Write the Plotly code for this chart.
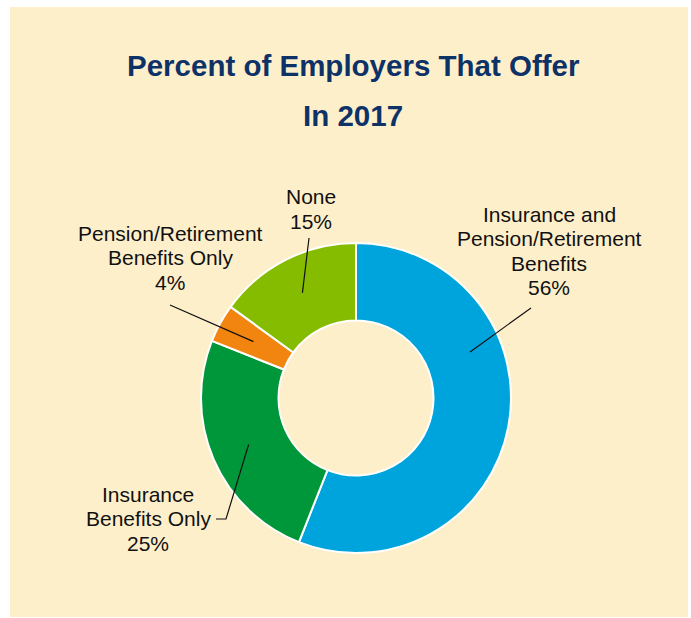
import math
import plotly.graph_objects as go

# Data
categories = [
    "Insurance and<br>Pension/Retirement<br>Benefits",
    "Insurance<br>Benefits Only",
    "Pension/Retirement<br>Benefits Only",
    "None",
]
percents = [56, 25, 4, 15]
colors = ["#00A4DC", "#00963A", "#F2850F", "#86BC00"]

W, H = 691, 618
CX, CY, R = 356, 398, 155  # donut centre / outer radius in px

def px(x):
    return x / W

def py(y):
    return 1 - y / H

fig = go.Figure(
    go.Pie(
        values=percents,
        labels=[c.replace("<br>", " ") for c in categories],
        marker=dict(colors=colors, line=dict(color="white", width=2)),
        hole=0.5,
        sort=False,
        direction="clockwise",
        rotation=0,
        textinfo="none",
        hoverinfo="label+percent",
        showlegend=False,
        domain=dict(x=[px(CX - R), px(CX + R)], y=[py(CY + R), py(CY - R)]),
    )
)

# Label positions: x centre and y of first line (px); lines are set 24.5 px apart
label_pos = [(549, 214), (148, 494), (170, 233), (311, 197)]
LINE_GAP = 24.5
line_tail = [[(531, 308)], [(216, 519), (226, 519)], [(170, 305)], [(309, 238)]]
# angle overrides (deg clockwise from top) for leader-line heads; None -> slice middle
angle_override = [68, None, None, None]
head_r = [123, 117, 117, 118]

shapes = [
    dict(type="rect", xref="paper", yref="paper", x0=px(10), x1=px(688),
         y0=py(617), y1=py(7), fillcolor="#FEEFCB", line=dict(width=0), layer="below")
]
annotations = []

cum = 0
for i, (cat, v) in enumerate(zip(categories, percents)):
    mid = (cum + v / 2) / sum(percents) * 360
    cum += v
    ang = angle_override[i] if angle_override[i] is not None else mid
    hx = CX + head_r[i] * math.sin(math.radians(ang))
    hy = CY - head_r[i] * math.cos(math.radians(ang))
    pts = line_tail[i] + [(hx, hy)]
    path = "M " + " L ".join(f"{px(x)},{py(y)}" for x, y in pts)
    shapes.append(dict(type="path", xref="paper", yref="paper", path=path,
                       line=dict(color="#111111", width=1.2)))
    lx, ly = label_pos[i]
    lines = cat.split("<br>") + [f"{v}%"]
    for k, ln in enumerate(lines):
        annotations.append(dict(
            x=px(lx), y=py(ly + k * LINE_GAP), xref="paper", yref="paper",
            text=ln, showarrow=False, align="center",
            xanchor="center", yanchor="middle",
            font=dict(family="Liberation Sans, Arial", size=21, color="#111111"),
        ))

# Two-line title
for txt, y in [("Percent of Employers That Offer", 65), ("In 2017", 115)]:
    annotations.append(dict(
        x=px(353), y=py(y), xref="paper", yref="paper", text=f"<b>{txt}</b>",
        showarrow=False, xanchor="center", yanchor="middle",
        font=dict(family="Liberation Sans, Arial", size=29.5, color="#0D3268"),
    ))

fig.update_layout(
    width=W, height=H,
    margin=dict(l=0, r=0, t=0, b=0),
    paper_bgcolor="white",
    plot_bgcolor="white",
    shapes=shapes,
    annotations=annotations,
)

fig.write_html("out.html")
